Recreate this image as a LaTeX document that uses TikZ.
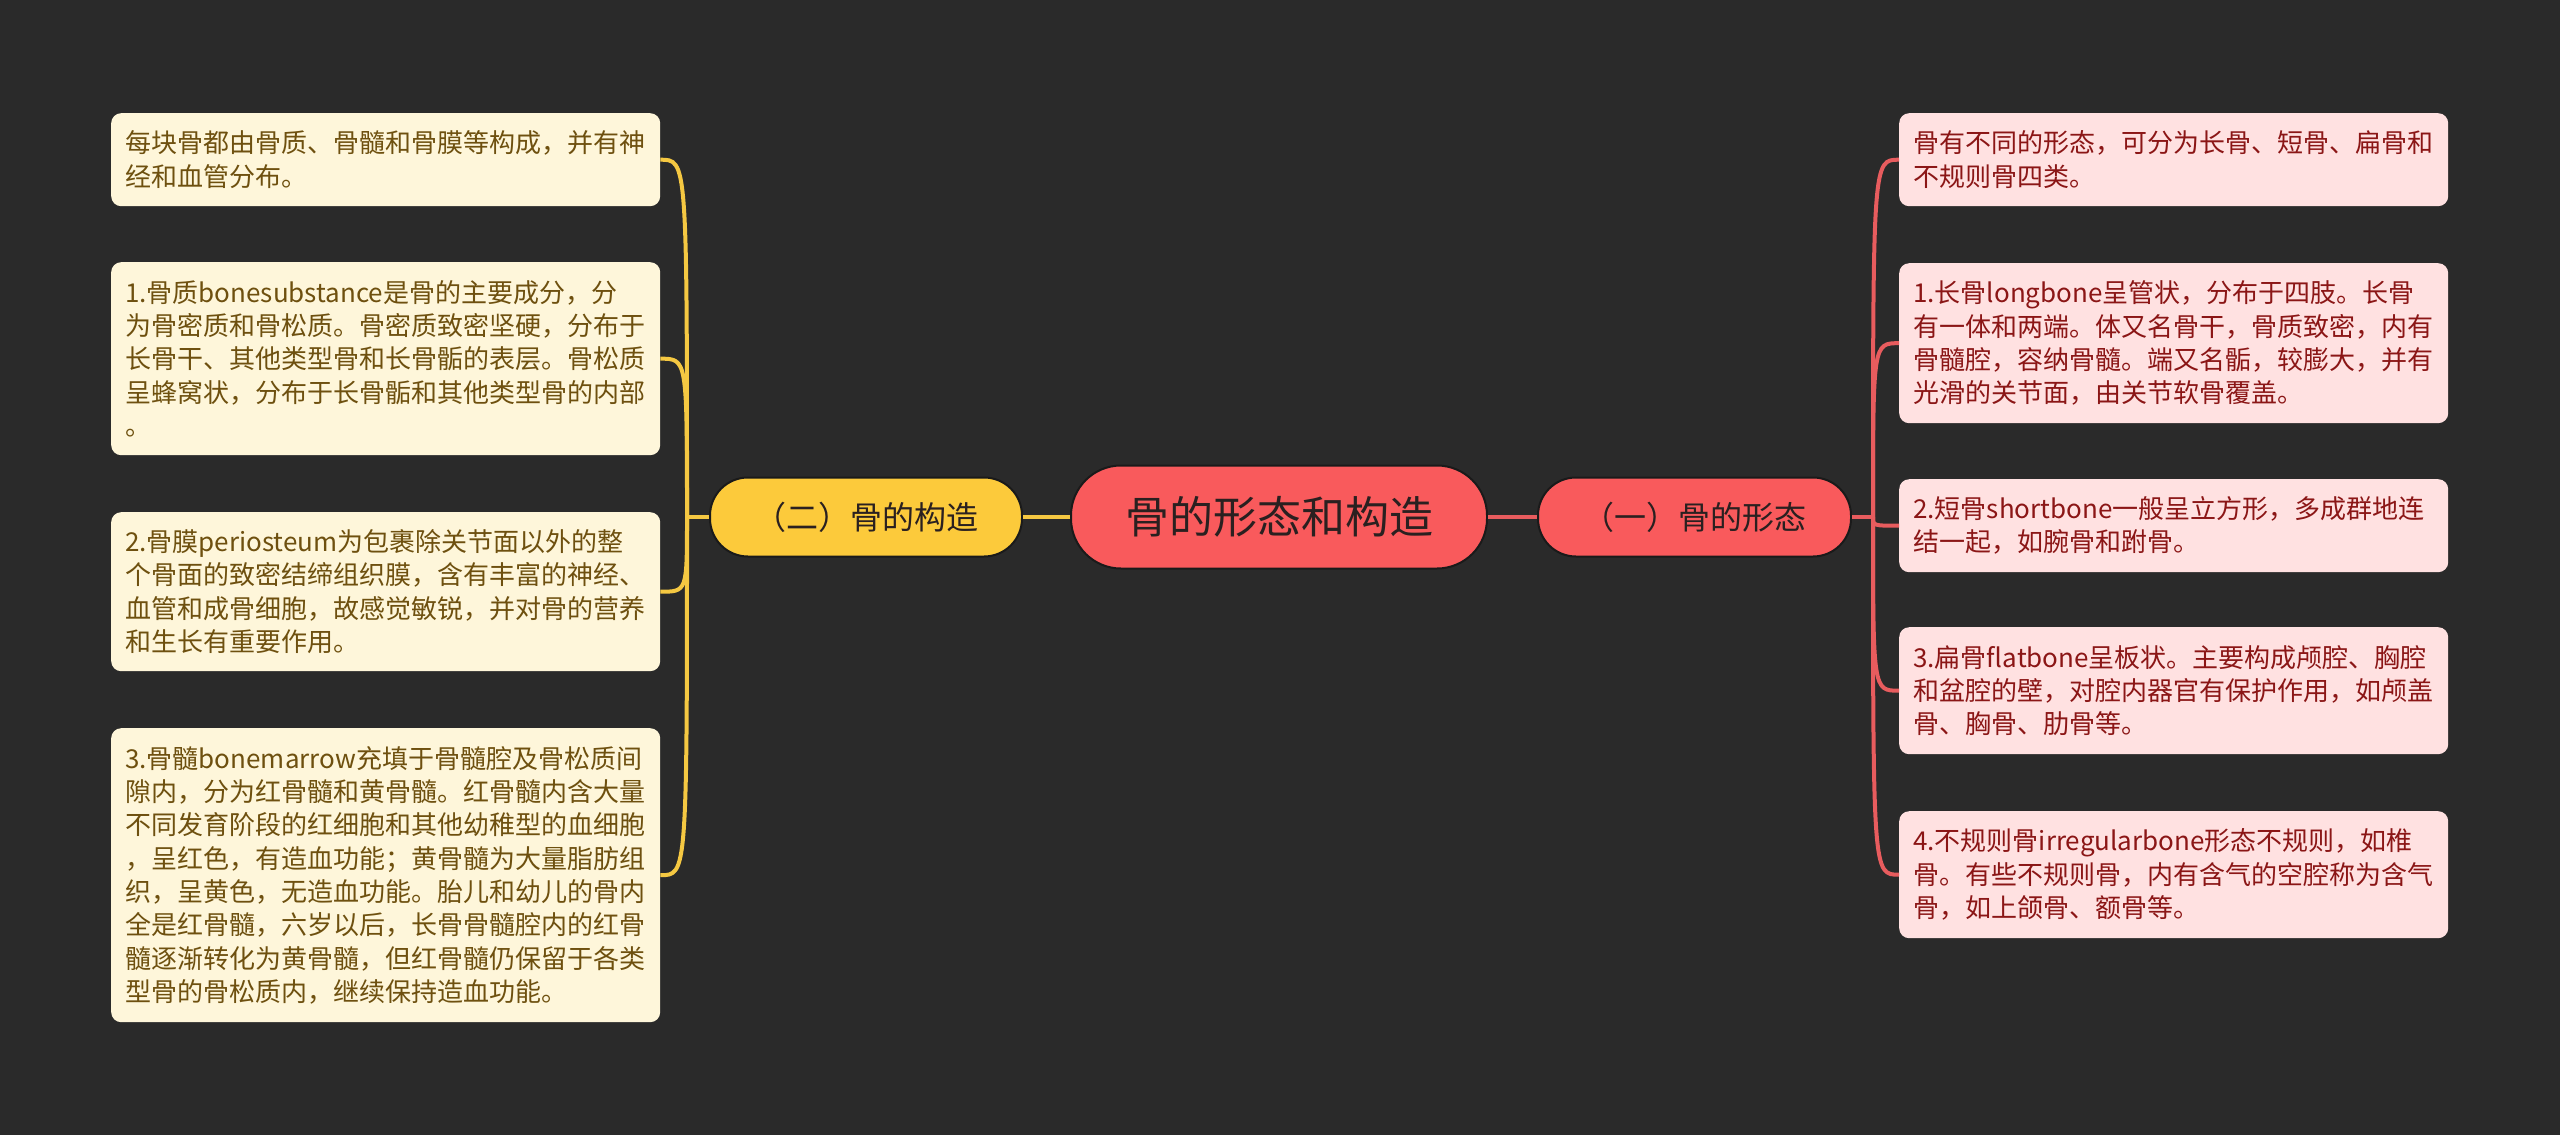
\documentclass[tikz,border=0pt]{standalone}
\usepackage{fontspec}
\newfontfamily\cjk{Noto Sans CJK SC}
\definecolor{bgc}{HTML}{2A2A2A}
\definecolor{lfill}{HTML}{FEF6DA}
\definecolor{ltext}{HTML}{6E500F}
\definecolor{rfill}{HTML}{FFE1E1}
\definecolor{rtext}{HTML}{8B1616}
\definecolor{redpill}{HTML}{F95A5C}
\definecolor{yelpill}{HTML}{FCCA3B}
\definecolor{pilltext}{HTML}{2A2020}
\definecolor{pilledge}{HTML}{1A1A1A}
\definecolor{yline}{HTML}{F5C842}
\definecolor{rline}{HTML}{E85C5E}
\tikzset{
  leafbox/.style={rounded corners=10pt, inner xsep=14pt, inner ysep=0pt,
    text width=521pt, align=left, anchor=north west,
    font=\cjk\fontsize{26}{33.33}\selectfont},
  leftbox/.style={leafbox, fill=lfill, text=ltext},
  rightbox/.style={leafbox, fill=rfill, text=rtext},
  pill/.style={draw=pilledge, line width=2pt, text=pilltext, inner sep=0pt},
  yconn/.style={draw=yline, line width=4pt},
  rconn/.style={draw=rline, line width=4pt}
}
\begin{document}
\begin{tikzpicture}[x=1pt,y=-1pt]
\useasboundingbox[fill=bgc] (0,0) rectangle (2560,1135);

% central and branch nodes
\node[pill, fill=redpill, minimum width=416pt, minimum height=103pt, rounded corners=50pt,
  font=\cjk\fontsize{44}{50}\selectfont] (root) at (1279,517) {骨的形态和构造};
\node[pill, fill=yelpill, minimum width=312pt, minimum height=79pt, rounded corners=38pt,
  font=\cjk\fontsize{32}{38}\selectfont] (struct) at (866,517) {（二）骨的构造};
\node[pill, fill=redpill, minimum width=313pt, minimum height=79pt, rounded corners=38pt,
  font=\cjk\fontsize{32}{38}\selectfont] (form) at (1694.5,517) {（一）骨的形态};

% left boxes
\node[leftbox, minimum height=93pt] (L1) at (111,113) {每块骨都由骨质、骨髓和骨膜等构成，并有神\\经和血管分布。};
\node[leftbox, minimum height=193pt] (L2) at (111,262) {1.骨质bonesubstance是骨的主要成分，分\\为骨密质和骨松质。骨密质致密坚硬，分布于\\长骨干、其他类型骨和长骨骺的表层。骨松质\\呈蜂窝状，分布于长骨骺和其他类型骨的内部\\。};
\node[leftbox, minimum height=159pt] (L3) at (111,512) {2.骨膜periosteum为包裹除关节面以外的整\\个骨面的致密结缔组织膜，含有丰富的神经、\\血管和成骨细胞，故感觉敏锐，并对骨的营养\\和生长有重要作用。};
\node[leftbox, minimum height=294pt] (L4) at (111,728) {3.骨髓bonemarrow充填于骨髓腔及骨松质间\\隙内，分为红骨髓和黄骨髓。红骨髓内含大量\\不同发育阶段的红细胞和其他幼稚型的血细胞\\，呈红色，有造血功能；黄骨髓为大量脂肪组\\织，呈黄色，无造血功能。胎儿和幼儿的骨内\\全是红骨髓，六岁以后，长骨骨髓腔内的红骨\\髓逐渐转化为黄骨髓，但红骨髓仍保留于各类\\型骨的骨松质内，继续保持造血功能。};

% right boxes
\node[rightbox, minimum height=93pt] (R1) at (1899,113) {骨有不同的形态，可分为长骨、短骨、扁骨和\\不规则骨四类。};
\node[rightbox, minimum height=160pt] (R2) at (1899,263) {1.长骨longbone呈管状，分布于四肢。长骨\\有一体和两端。体又名骨干，骨质致密，内有\\骨髓腔，容纳骨髓。端又名骺，较膨大，并有\\光滑的关节面，由关节软骨覆盖。};
\node[rightbox, minimum height=93pt] (R3) at (1899,479) {2.短骨shortbone一般呈立方形，多成群地连\\结一起，如腕骨和跗骨。};
\node[rightbox, minimum height=127pt] (R4) at (1899,627) {3.扁骨flatbone呈板状。主要构成颅腔、胸腔\\和盆腔的壁，对腔内器官有保护作用，如颅盖\\骨、胸骨、肋骨等。};
\node[rightbox, minimum height=127pt] (R5) at (1899,811) {4.不规则骨irregularbone形态不规则，如椎\\骨。有些不规则骨，内有含气的空腔称为含气\\骨，如上颌骨、额骨等。};

% junctions
\coordinate (jL) at (687,517);
\coordinate (jR) at (1873,517);

% connectors
\draw[yconn] (root.west) -- (struct.east);
\draw[rconn] (root.east) -- (form.west);
\draw[yconn] (struct.west) -- (jL);
\draw[rconn] (form.east) -- (jR);
\foreach \b in {L1,L2,L3,L4}
  \draw[yconn] (jL) .. controls (jL |- \b.east) .. (\b.east);
\foreach \b in {R1,R2,R3,R4,R5}
  \draw[rconn] (jR) .. controls (jR |- \b.west) .. (\b.west);
\end{tikzpicture}
\end{document}
